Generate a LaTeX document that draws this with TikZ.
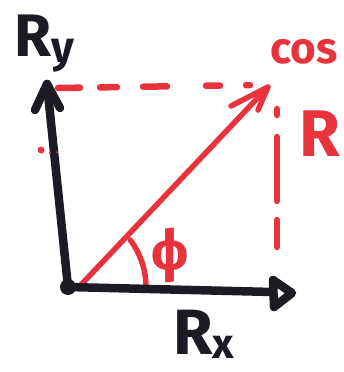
\documentclass[tikz,border=0pt]{standalone}
\usepackage{fontspec}
\setmainfont{Fira Sans}
\definecolor{ink}{HTML}{1C1A24}
\definecolor{redink}{HTML}{E8323C}
\tikzset{
  blackpen/.style={draw=ink, line width=8.5pt, line cap=round, line join=round},
  redpen/.style={draw=redink, line width=5.5pt, line cap=round, line join=round},
  reddash/.style={draw=redink, line width=6.5pt, line cap=round},
  blacklabel/.style={text=ink, inner sep=0pt},
  redlabel/.style={text=redink, inner sep=0pt},
}
\begin{document}
\begin{tikzpicture}[x=1pt,y=-1pt]
\useasboundingbox (0,0) rectangle (343,372);
\coordinate (O) at (68,287);
\coordinate (Y) at (47,84);
\coordinate (X) at (292,293);
\coordinate (P) at (268,87);
\coordinate (Q) at (78,288);
% dashed guides
\draw[reddash, dash pattern=on 22pt off 20pt on 17pt off 26pt on 24pt off 39pt on 14pt off 26pt on 4pt off 40pt] (58,88) -- (256,85);
\draw[reddash, dash pattern=on 6pt off 22pt on 64pt off 19pt on 32pt off 100pt] (277,109) -- (277,247);
% red vector
\draw[redpen] (Q) -- (P);
\draw[redpen] (231,106) -- (P) -- (258,110);
% angle arc
\draw[redpen] (O) ++(-37:78) arc[start angle=-37, end angle=-1, radius=78];
% axes
\draw[blackpen] (O) -- (Y);
\draw[blackpen] (35,110) -- (Y) -- (60,108);
\draw[blackpen] (O) -- (273,292);
\draw[blackpen] (273,280) -- (X) -- (274,307) -- cycle;
\fill[ink] (O) circle (8);
% labels
\node[blacklabel, font=\fontsize{60}{60}\selectfont\bfseries] (ry) at (44,44) {R\raisebox{-6pt}{\fontsize{44}{44}\selectfont y}};
\node[blacklabel, font=\fontsize{64}{64}\selectfont\bfseries] (rx) at (204,334) {R\raisebox{-4pt}{\fontsize{42}{42}\selectfont x}};
\node[redlabel, font=\fontsize{44}{44}\selectfont\bfseries] (cos) at (304,52) {cos};
\node[redlabel, font=\fontsize{66}{66}\selectfont\bfseries] (r) at (320,134) {R};
\node[redlabel, font=\fontsize{56}{56}\selectfont\bfseries] (phi) at (170,255) {ϕ};
\fill[redink] (41,150) circle (3.5);
\fill[redink] (50,153) circle (1.5);
\fill[redink] (57,152) circle (1);
\end{tikzpicture}
\end{document}
